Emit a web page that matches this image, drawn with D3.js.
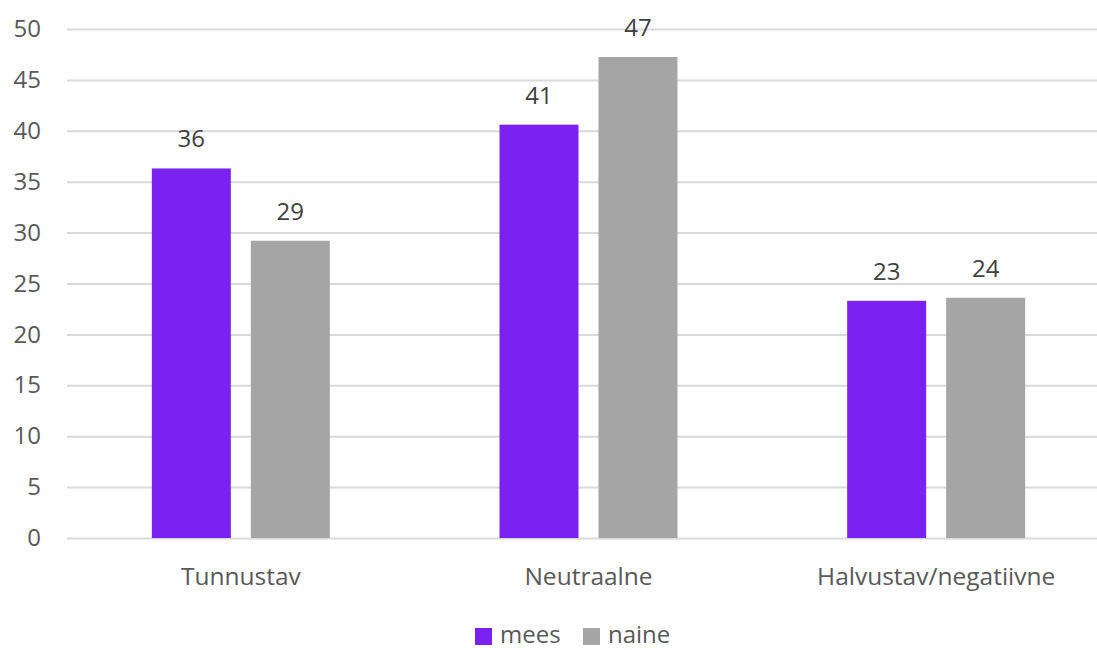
<!DOCTYPE html>
<html><head><meta charset="utf-8">
<script src="https://cdn.jsdelivr.net/npm/d3@7"></script>
<style>
html,body{margin:0;padding:0;background:#fff;}
svg{display:block;font-family:"Open Sans",sans-serif;}
</style></head>
<body>
<svg id="chart" width="1097" height="650"></svg>
<script>
const categories = ["Tunnustav", "Neutraalne", "Halvustav/negatiivne"];
const seriesNames = ["mees", "naine"];
const meesValues = [36.3, 40.6, 23.3];
const naineValues = [29.2, 47.25, 23.6];
const yTicks = [0, 5, 10, 15, 20, 25, 30, 35, 40, 45, 50];
const colors = ["#7A22F2", "#A5A5A5"];

const series = [meesValues, naineValues];
const svg = d3.select("#chart");
const textColor = "#595959";
const fontSize = 24;

const y = d3.scaleLinear().domain([0, 50]).range([538, 29]);
const x0 = d3.scaleBand().domain(categories).range([67, 1110]).paddingInner(0).paddingOuter(0);
const barW = 79, barGap = 20;
const groupW = barW * 2 + barGap;
const x1 = d3.scaleBand().domain(seriesNames).range([0, groupW])
  .paddingInner(barGap / (barW + barGap)).paddingOuter(0);

// gridlines + y tick labels
const yAxis = d3.axisLeft(y).tickValues(yTicks).tickSize(-(1097 - 67)).tickPadding(26).tickFormat(d3.format("d"));
const gy = svg.append("g").attr("transform", "translate(67,0)").call(yAxis);
gy.select(".domain").remove();
gy.selectAll(".tick line").attr("stroke", "#D9D9D9").attr("stroke-width", 2);
gy.selectAll(".tick text").attr("fill", textColor).attr("font-size", fontSize).attr("font-family", "Open Sans").attr("x", -26);

// bars
const groups = svg.append("g").selectAll("g").data(categories).join("g")
  .attr("transform", d => `translate(${x0(d) + x0.bandwidth() / 2 - groupW / 2},0)`);
const rows = (d, i) => seriesNames.map((s, j) => ({s, v: series[j][i], j}));
groups.selectAll("rect").data(rows)
  .join("rect")
  .attr("x", d => x1(d.s))
  .attr("width", x1.bandwidth())
  .attr("y", d => y(d.v))
  .attr("height", d => y(0) - y(d.v))
  .attr("fill", d => colors[d.j]);
groups.selectAll("text.lbl").data(rows)
  .join("text").attr("class", "lbl")
  .attr("x", d => x1(d.s) + x1.bandwidth() / 2)
  .attr("y", d => y(d.v) - 21)
  .attr("text-anchor", "middle")
  .attr("fill", "#404040")
  .attr("font-size", fontSize)
  .text(d => Math.round(d.v));

// x axis labels
const xAxis = d3.axisBottom(x0).tickSize(0).tickPadding(0);
const gx = svg.append("g").attr("transform", "translate(0,538)").call(xAxis);
gx.select(".domain").remove();
gx.selectAll(".tick text").attr("fill", textColor).attr("font-size", 24.5).attr("font-family", "Open Sans")
  .attr("dy", null).attr("y", 47);

// legend
const legendX = [475, 583];
const lg = svg.append("g");
seriesNames.forEach((s, i) => {
  lg.append("rect").attr("x", legendX[i]).attr("y", 628).attr("width", 17).attr("height", 17).attr("fill", colors[i]);
  lg.append("text").attr("x", legendX[i] + 25).attr("y", 643).attr("fill", textColor).attr("font-size", fontSize).text(s);
});
</script>
</body></html>
